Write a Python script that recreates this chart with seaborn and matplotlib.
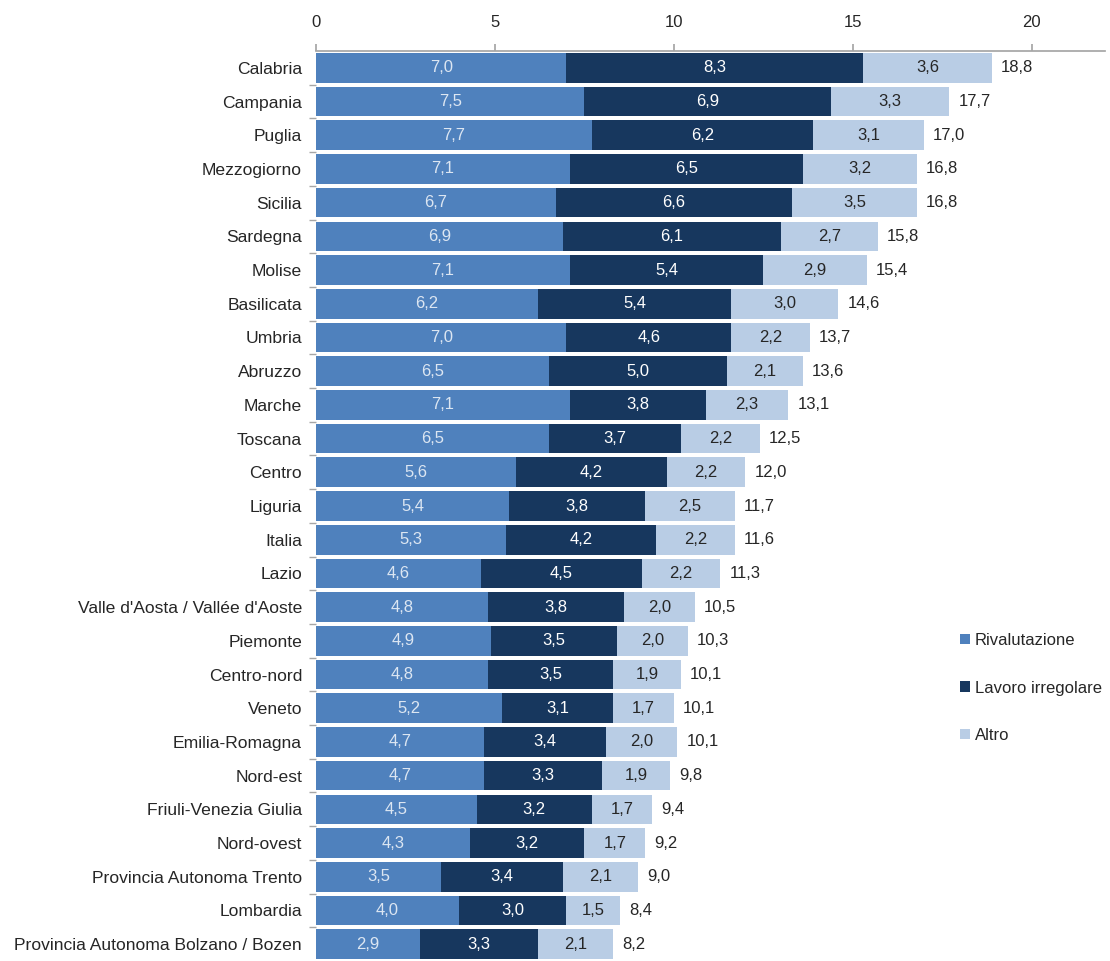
import matplotlib
matplotlib.use("Agg")
import matplotlib.pyplot as plt
import seaborn as sns
import numpy as np
import pandas as pd
from matplotlib.patches import Patch

regions = ["Calabria", "Campania", "Puglia", "Mezzogiorno", "Sicilia", "Sardegna", "Molise",
           "Basilicata", "Umbria", "Abruzzo", "Marche", "Toscana", "Centro", "Liguria", "Italia",
           "Lazio", "Valle d'Aosta / Vallée d'Aoste", "Piemonte", "Centro-nord", "Veneto",
           "Emilia-Romagna", "Nord-est", "Friuli-Venezia Giulia", "Nord-ovest",
           "Provincia Autonoma Trento", "Lombardia", "Provincia Autonoma Bolzano / Bozen"]
rivalutazione = [7.0, 7.5, 7.7, 7.1, 6.7, 6.9, 7.1, 6.2, 7.0, 6.5, 7.1, 6.5, 5.6, 5.4, 5.3,
                 4.6, 4.8, 4.9, 4.8, 5.2, 4.7, 4.7, 4.5, 4.3, 3.5, 4.0, 2.9]
lavoro_irregolare = [8.3, 6.9, 6.2, 6.5, 6.6, 6.1, 5.4, 5.4, 4.6, 5.0, 3.8, 3.7, 4.2, 3.8, 4.2,
                     4.5, 3.8, 3.5, 3.5, 3.1, 3.4, 3.3, 3.2, 3.2, 3.4, 3.0, 3.3]
altro = [3.6, 3.3, 3.1, 3.2, 3.5, 2.7, 2.9, 3.0, 2.2, 2.1, 2.3, 2.2, 2.2, 2.5, 2.2,
         2.2, 2.0, 2.0, 1.9, 1.7, 2.0, 1.9, 1.7, 1.7, 2.1, 1.5, 2.1]
totale = [18.8, 17.7, 17.0, 16.8, 16.8, 15.8, 15.4, 14.6, 13.7, 13.6, 13.1, 12.5, 12.0, 11.7, 11.6,
          11.3, 10.5, 10.3, 10.1, 10.1, 10.1, 9.8, 9.4, 9.2, 9.0, 8.4, 8.2]
series_names = ["Rivalutazione", "Lavoro irregolare", "Altro"]
xticks = [0, 5, 10, 15, 20]

colors = ["#4F81BD", "#17375E", "#B9CDE5"]
text_colors = ["#DCE6F2", "#FFFFFF", "#262626"]

sns.set_theme(style="white")
plt.rcParams['font.family'] = ['Liberation Sans', 'DejaVu Sans']

df = pd.DataFrame({"regione": regions, "r": rivalutazione, "l": lavoro_irregolare, "a": altro})
df["c1"] = df["r"]
df["c2"] = df["r"] + df["l"]
df["c3"] = df["c2"] + df["a"]

fig = plt.figure(figsize=(11.10, 9.61), dpi=100)
ax = fig.add_axes([316/1110, 0.0, (1105-316)/1110, 1 - 51/961])

for col, color in zip(["c3", "c2", "c1"], colors[::-1]):
    sns.barplot(data=df, x=col, y="regione", orient="h", color=color, width=0.88,
                saturation=1, ax=ax, order=regions, linewidth=0, errorbar=None)

fs = 12
for i in range(len(regions)):
    starts = [0, df["c1"][i], df["c2"][i]]
    vals = [rivalutazione[i], lavoro_irregolare[i], altro[i]]
    for s, v, tc in zip(starts, vals, text_colors):
        ax.text(s + v / 2, i, f"{v:.1f}".replace(".", ","), ha="center", va="center",
                color=tc, fontsize=fs)
    ax.text(df["c3"][i] + 0.25, i, f"{totale[i]:.1f}".replace(".", ","), ha="left",
            va="center", color="#262626", fontsize=fs)

ax.set_xlim(0, 22.05)
ax.set_ylim(len(regions) - 0.5, -0.5)
ax.xaxis.tick_top()
ax.set_xticks(xticks)
ax.set_xticklabels([str(t) for t in xticks], fontsize=fs, color="#262626")
ax.tick_params(axis="x", which="major", top=True, length=5, color="#A6A6A6", pad=10)
ax.set_yticks(range(len(regions)))
ax.set_yticklabels(regions, fontsize=12.6, color="#262626")
ax.tick_params(axis="y", which="major", length=0, pad=10)
ax.set_yticks(np.arange(0.5, len(regions) - 1, 1), minor=True)
ax.tick_params(axis="y", which="minor", left=True, length=5, color="#A6A6A6")
ax.set_xlabel("")
ax.set_ylabel("")
for side in ["right", "bottom", "left"]:
    ax.spines[side].set_visible(False)
ax.spines["top"].set_visible(True)
ax.spines["top"].set_color("#A6A6A6")
ax.grid(False)

handles = [Patch(facecolor=c, edgecolor="none") for c in colors]
fig.legend(handles, series_names, loc="upper left", bbox_to_anchor=(945/1110, 1 - 618/961),
           frameon=False, fontsize=fs, handlelength=0.6, handleheight=0.6,
           handletextpad=0.3, labelspacing=1.95, labelcolor="#262626")

fig.savefig("out.png", dpi=100)
